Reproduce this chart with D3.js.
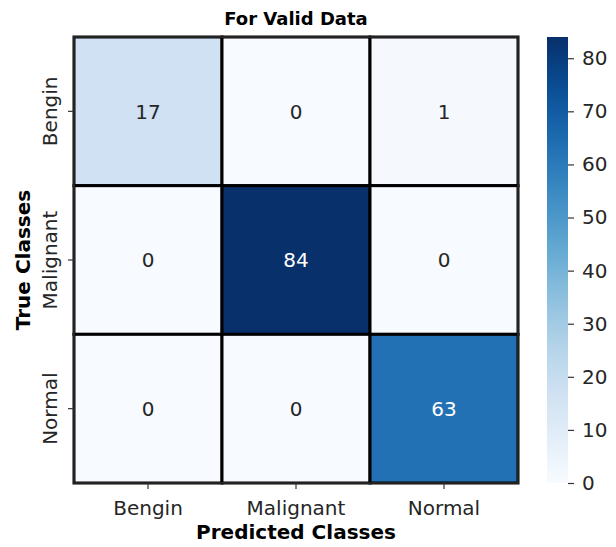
<!DOCTYPE html>
<html>
<head>
<meta charset="utf-8">
<script src="https://cdn.jsdelivr.net/npm/d3@7"></script>
<style>
  html, body { margin: 0; padding: 0; background: #fff; }
  svg { display: block; }
  text { font-family: "DejaVu Sans", sans-serif; fill: #262626; }
</style>
</head>
<body>
<svg id="chart" width="616" height="547"></svg>
<script>
const classes = ["Bengin", "Malignant", "Normal"];
const trueClasses = ["Bengin", "Malignant", "Normal"];
const matrix = [
  [17, 0, 1],
  [0, 84, 0],
  [0, 0, 63]
];
const colorbarTicks = [0, 10, 20, 30, 40, 50, 60, 70, 80];
const title = "For Valid Data";
const xLabel = "Predicted Classes";
const yLabel = "True Classes";

const svg = d3.select("#chart");
const gLeft = 74, gRight = 518, gTop = 37, gBottom = 483;
const maxVal = d3.max(matrix.flat());

const x = d3.scaleBand().domain(classes).range([gLeft, gRight]);
const y = d3.scaleBand().domain(trueClasses).range([gTop, gBottom]);
const color = d3.scaleSequential(d3.interpolateBlues).domain([0, maxVal]);

const cells = [];
matrix.forEach((row, i) => row.forEach((v, j) => cells.push({r: trueClasses[i], c: classes[j], v})));

svg.append("g").selectAll("rect").data(cells).join("rect")
  .attr("x", d => x(d.c)).attr("y", d => y(d.r))
  .attr("width", x.bandwidth()).attr("height", y.bandwidth())
  .attr("fill", d => color(d.v))
  .attr("stroke", "#000").attr("stroke-width", 3);

svg.append("rect").attr("x", gLeft).attr("y", gTop)
  .attr("width", gRight - gLeft).attr("height", gBottom - gTop)
  .attr("fill", "none").attr("stroke", "#222").attr("stroke-width", 2);

svg.append("g").selectAll("text").data(cells).join("text")
  .attr("x", d => x(d.c) + x.bandwidth() / 2)
  .attr("y", d => y(d.r) + y.bandwidth() / 2)
  .attr("text-anchor", "middle").attr("dy", "0.36em")
  .style("font-size", "20px")
  .style("fill", d => d.v / maxVal > 0.5 ? "#ffffff" : "#262626")
  .text(d => d.v);

// x axis
const xAxis = svg.append("g").attr("transform", `translate(0,${gBottom})`)
  .call(d3.axisBottom(x).tickSize(6).tickPadding(12));
xAxis.select(".domain").remove();
xAxis.selectAll("line").attr("stroke", "#333").attr("stroke-width", 1.2);
xAxis.selectAll("text").style("font-size", "20px").style("fill", "#262626").attr("font-family", null);

// y axis
const yAxis = svg.append("g").attr("transform", `translate(${gLeft},0)`)
  .call(d3.axisLeft(y).tickSize(6).tickPadding(0));
yAxis.select(".domain").remove();
yAxis.selectAll("line").attr("stroke", "#333").attr("stroke-width", 1.2);
yAxis.selectAll("text")
  .style("font-size", "20px").style("fill", "#262626").attr("font-family", null)
  .attr("x", null)
  .attr("text-anchor", "middle")
  .attr("transform", "translate(-23,0) rotate(-90)")
  .attr("dy", "0.32em");

// title and labels
svg.append("text").attr("x", (gLeft + gRight) / 2).attr("y", 25)
  .attr("text-anchor", "middle").style("font-size", "18px").style("font-weight", "bold").style("fill", "#000")
  .text(title);
svg.append("text").attr("x", (gLeft + gRight) / 2).attr("y", 539)
  .attr("text-anchor", "middle").style("font-size", "20px").style("font-weight", "bold").style("fill", "#000")
  .text(xLabel);
svg.append("text").attr("transform", `translate(30,${(gTop + gBottom) / 2}) rotate(-90)`)
  .attr("text-anchor", "middle").style("font-size", "20px").style("font-weight", "bold").style("fill", "#000")
  .text(yLabel);

// colorbar
const cbX = 547, cbW = 21;
const cbScale = d3.scaleLinear().domain([0, maxVal]).range([gBottom, gTop]);
const defs = svg.append("defs");
const grad = defs.append("linearGradient").attr("id", "cbgrad")
  .attr("x1", 0).attr("y1", 1).attr("x2", 0).attr("y2", 0);
d3.range(0, 1.0001, 0.05).forEach(t => {
  grad.append("stop").attr("offset", t).attr("stop-color", color(t * maxVal));
});
svg.append("rect").attr("x", cbX).attr("y", gTop).attr("width", cbW).attr("height", gBottom - gTop)
  .attr("fill", "url(#cbgrad)");
const cbAxis = svg.append("g").attr("transform", `translate(${cbX + cbW},0)`)
  .call(d3.axisRight(cbScale).tickValues(colorbarTicks).tickSize(6).tickPadding(8));
cbAxis.select(".domain").remove();
cbAxis.selectAll("line").attr("stroke", "#333").attr("stroke-width", 1.2);
cbAxis.selectAll("text").style("font-size", "20px").style("fill", "#262626").attr("font-family", null);
</script>
</body>
</html>
